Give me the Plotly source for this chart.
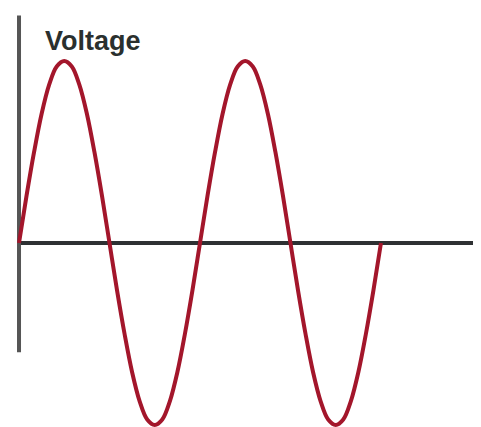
import plotly.graph_objects as go

# Phase angle (degrees) and voltage (two full cycles)
angle = [0, 15, 30, 45, 60, 75, 90, 105, 120, 135, 150, 165, 180,
         195, 210, 225, 240, 255, 270, 285, 300, 315, 330, 345, 360,
         375, 390, 405, 420, 435, 450, 465, 480, 495, 510, 525, 540,
         555, 570, 585, 600, 615, 630, 645, 660, 675, 690, 705, 720]
voltage = [0, 0.26, 0.5, 0.71, 0.87, 0.97, 1.0, 0.97, 0.87, 0.71, 0.5, 0.26, 0,
           -0.26, -0.5, -0.71, -0.87, -0.97, -1.0, -0.97, -0.87, -0.71, -0.5, -0.26, 0,
           0.26, 0.5, 0.71, 0.87, 0.97, 1.0, 0.97, 0.87, 0.71, 0.5, 0.26, 0,
           -0.26, -0.5, -0.71, -0.87, -0.97, -1.0, -0.97, -0.87, -0.71, -0.5, -0.26, 0]

fig = go.Figure()
fig.add_trace(go.Scatter(
    x=angle, y=voltage, mode='lines',
    line=dict(color='#A3162B', width=4, shape='spline'),
    hoverinfo='skip', showlegend=False
))

# axis lines
fig.add_shape(type='line', xref='x', yref='y', x0=0, x1=950, y0=0, y1=0,
              line=dict(color='#2E3133', width=4), layer='below')
fig.add_shape(type='line', xref='x', yref='y', x0=0, x1=0, y0=1.25, y1=-0.60,
              line=dict(color='#555555', width=4), layer='below')

fig.add_annotation(text='<b>Voltage</b>', x=0.074, y=0.921, xref='paper', yref='paper',
                   xanchor='left', yanchor='middle', showarrow=False,
                   font=dict(family='Arial', size=27, color='#2A302E'))

fig.update_layout(
    width=473, height=419,
    margin=dict(l=0, r=0, t=0, b=0),
    plot_bgcolor='white', paper_bgcolor='white',
    xaxis=dict(range=[-21.9, 919.0], visible=False),
    yaxis=dict(range=[-1.011, 1.291], visible=False),
)
fig.write_html('out.html')
